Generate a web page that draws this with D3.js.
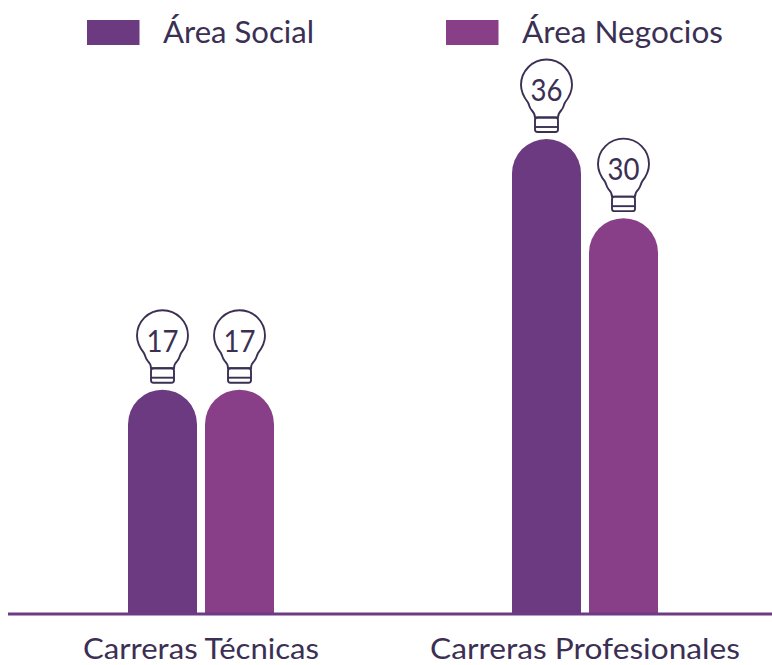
<!DOCTYPE html>
<html><head><meta charset="utf-8">
<script src="https://cdn.jsdelivr.net/npm/d3@7/dist/d3.min.js"></script>
<style>html,body{margin:0;padding:0;background:#fff}svg{display:block}
text{font-family:Lato,sans-serif;fill:#3b3054}</style></head>
<body><svg id="c" width="772" height="665"></svg>
<script>
const categories = ["Carreras Técnicas", "Carreras Profesionales"];
const seriesNames = ["Área Social", "Área Negocios"];
const social = [17, 36];
const negocios = [17, 30];
const seriesValues = [social, negocios];
const colors = ["#6b3a81", "#893f87"];

const W = 772, H = 665, baseY = 614;
const svg = d3.select("#c");
const x0 = d3.scaleBand().domain(categories).range([9, 777]);
const x1 = d3.scaleBand().domain(seriesNames).range([0, 146]).paddingInner(0.104);
const y = d3.scaleLinear().domain([0, 36]).range([baseY, 139]);
const bw = x1.bandwidth(), r = bw / 2;
const groupLeft = c => x0(c) + x0.bandwidth() / 2 - 73;

// bars and bulbs
seriesNames.forEach((s, si) => {
  const g = svg.append("g");
  categories.forEach((c, ci) => {
    const v = seriesValues[si][ci];
    const xl = groupLeft(c) + x1(s), top = y(v), cx = xl + r;
    const p = d3.path();
    p.moveTo(xl, baseY);
    p.lineTo(xl, top + r);
    p.arc(cx, top + r, r, Math.PI, 0);
    p.lineTo(xl + bw, baseY);
    p.closePath();
    g.append("path").attr("d", p.toString()).attr("fill", colors[si]);

    const b = g.append("g").attr("transform", `translate(${cx},${top})`)
      .attr("fill", "none").attr("stroke", "#3b3054").attr("stroke-width", 1.9);
    b.append("path").attr("d",
      "M-11.5,-21.5 C-11.5,-25 -13,-27 -15,-29 C-17.5,-32 -17,-34 -18.5,-36.5 C-22,-41 -25.5,-47 -25.5,-54 " +
      "A25.5,25.5 0 1 1 25.5,-54 C25.5,-47 22,-41 18.5,-36.5 C17,-34 17.5,-32 15,-29 C13,-27 11.5,-25 11.5,-21.5 Z")
      .attr("fill", "#fff");
    b.append("rect").attr("x", -11.5).attr("y", -21.5).attr("width", 23).attr("height", 14.5).attr("rx", 2.5);
    b.append("line").attr("x1", -11.5).attr("x2", 11.5).attr("y1", -12).attr("y2", -12);
    g.append("text").attr("x", cx).attr("y", top - 38)
      .attr("text-anchor", "middle").attr("font-size", 31.5)
      .attr("textLength", 32).attr("lengthAdjust", "spacingAndGlyphs").text(v);
  });
});

// axis
const axis = d3.axisBottom(x0).tickSize(0).tickPadding(24);
const ag = svg.append("g").attr("transform", `translate(0,${baseY})`).call(axis);
ag.select(".domain").remove();
svg.append("line").attr("x1", 8).attr("x2", W).attr("y1", baseY).attr("y2", baseY)
  .attr("stroke", "#6d3a84").attr("stroke-width", 3);
ag.selectAll("text").attr("font-size", 29).attr("font-family", "Lato,sans-serif")
  .attr("fill", "#3b3054").attr("textLength", (d,i)=>[236,310][i]).attr("lengthAdjust","spacingAndGlyphs");

// legend
const legendX = d3.scaleOrdinal().domain(seriesNames).range([87, 446]);
seriesNames.forEach((s, i) => {
  svg.append("rect").attr("x", legendX(s)).attr("y", 20).attr("width", 52.5).attr("height", 25)
    .attr("fill", colors[i]);
  svg.append("text").attr("x", legendX(s) + 76).attr("y", 42.5).attr("font-size", 31)
    .attr("textLength", [151, 201][i]).attr("lengthAdjust","spacingAndGlyphs").text(s);
});
</script></body></html>
